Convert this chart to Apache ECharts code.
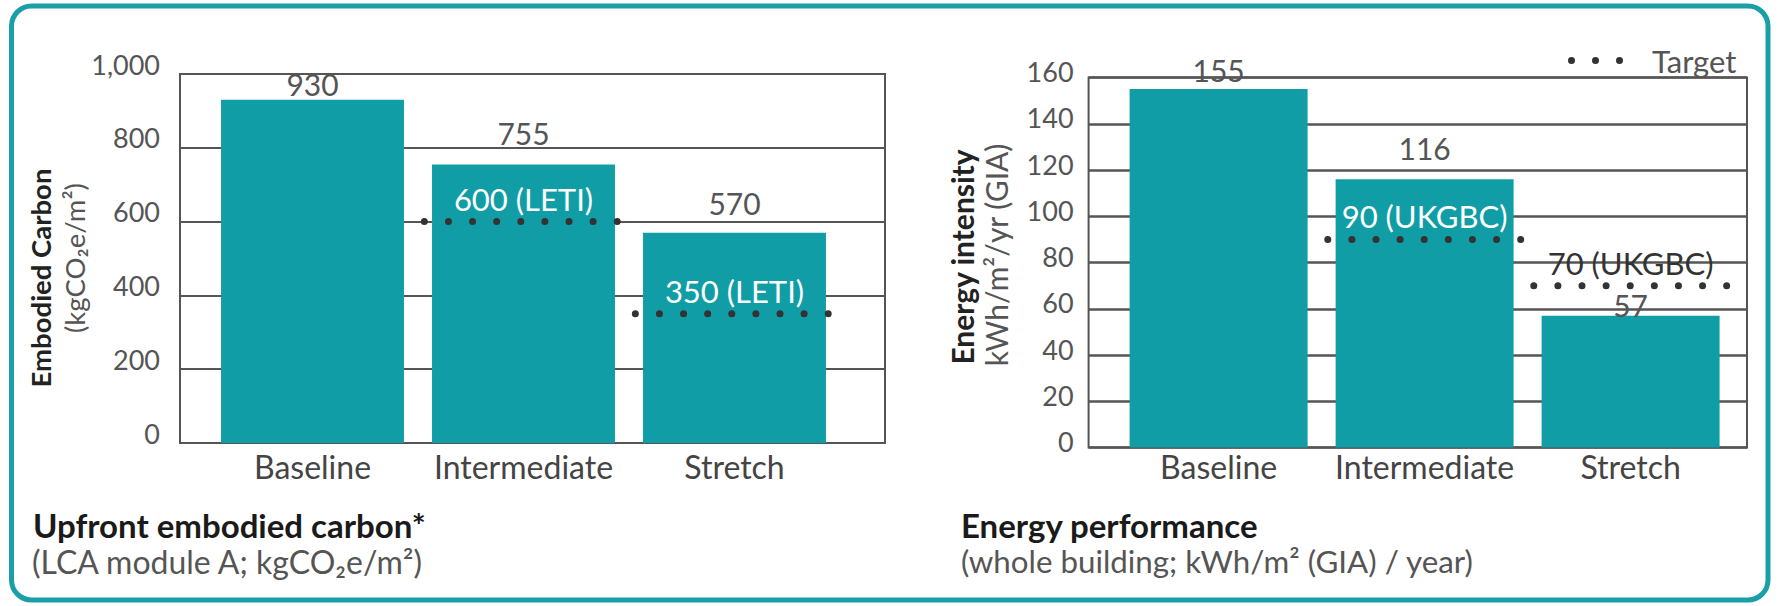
<!DOCTYPE html>
<html>
<head>
<meta charset="utf-8">
<script src="https://cdn.jsdelivr.net/npm/echarts@6/dist/echarts.min.js"></script>
<style>
  html, body { margin: 0; padding: 0; background: #fff; }
  #chart { width: 1780px; height: 606px; }
</style>
</head>
<body>
<div id="chart"></div>
<script>
// ---------- data ----------
const categories = ['Baseline', 'Intermediate', 'Stretch'];

const carbonValues = [930, 755, 570];
const carbonTargets = [null, 600, 350];
const carbonTargetSource = 'LETI';
const carbonTicks = [0, 200, 400, 600, 800, 1000];

const energyValues = [155, 116, 57];
const energyTargets = [null, 90, 70];
const energyTargetSource = 'UKGBC';
const energyTicks = [0, 20, 40, 60, 80, 100, 120, 140, 160];

const legendLabel = 'Target';

// ---------- style ----------
const FONT = 'Lato, "Open Sans", sans-serif';
const TEAL = '#109da6';
const GRID_COLOR = '#555';
const TEXT_GRAY = '#555';
const carbonLabelGap = [1, 16, 15];
const energyLabelGap = [4, 16, -4];

function fmtThousands(v) { return String(v).replace(/\B(?=(\d{3})+(?!\d))/g, ','); }

function barData(values, gaps) {
  return values.map((v, i) => ({ value: v, label: { distance: gaps[i] } }));
}
function targetData(targets, values) {
  const out = [];
  targets.forEach((t, i) => { if (t != null) out.push([i, t, values[i]]); });
  return out;
}
function makeRender(source) {
  return function (params, api) {
    const t = api.value(1);
    const bv = api.value(2);
    const p = api.coord([api.value(0), t]);
    const bw = api.size([1, 0])[0];
    const half = bw * 0.47;
    return {
      type: 'group',
      children: [
        { type: 'line',
          shape: { x1: p[0] - half, y1: p[1], x2: p[0] + half, y2: p[1] },
          style: { stroke: '#333', lineWidth: 7, lineDash: [0.01, 24.1], lineCap: 'round' } },
        { type: 'text', x: p[0], y: p[1] - 23,
          style: { text: t + ' (' + source + ')', fill: t < bv ? '#fff' : '#333',
                   fontSize: 31, fontFamily: FONT, align: 'center', verticalAlign: 'middle' } }
      ]
    };
  };
}

const chart = echarts.init(document.getElementById('chart'), null, { renderer: 'svg' });

const frameGrid = { show: true, borderColor: GRID_COLOR, borderWidth: 2, backgroundColor: 'transparent' };
const catLabel = { interval: 0, hideOverlap: false, color: '#444', fontSize: 32, fontFamily: FONT };

const option = {
  animation: false,
  grid: [
    Object.assign({ left: 180, top: 74, width: 705, height: 369 }, frameGrid),
    { left: 207, top: 74, width: 633, height: 369 },
    Object.assign({ left: 1088.6, top: 77.5, width: 658.4, height: 370 }, frameGrid),
    { left: 1115.6, top: 77.5, width: 618, height: 370 }
  ],
  xAxis: [
    { gridIndex: 0, type: 'category', data: categories, show: false },
    { gridIndex: 1, type: 'category', data: categories,
      axisLine: { show: false }, axisTick: { show: false },
      axisLabel: Object.assign({ margin: 7 }, catLabel) },
    { gridIndex: 2, type: 'category', data: categories, show: false },
    { gridIndex: 3, type: 'category', data: categories,
      axisLine: { show: false }, axisTick: { show: false },
      axisLabel: Object.assign({ margin: 3 }, catLabel) }
  ],
  yAxis: [
    { gridIndex: 0, type: 'value', min: carbonTicks[0], max: carbonTicks[carbonTicks.length - 1],
      interval: carbonTicks[1] - carbonTicks[0],
      axisLine: { show: false }, axisTick: { show: false },
      splitLine: { lineStyle: { color: GRID_COLOR, width: 2 } },
      axisLabel: { margin: 20, color: TEXT_GRAY, fontSize: 27, fontFamily: FONT,
                   verticalAlign: 'bottom', lineHeight: 20, formatter: fmtThousands } },
    { gridIndex: 1, type: 'value', min: carbonTicks[0], max: carbonTicks[carbonTicks.length - 1], show: false },
    { gridIndex: 2, type: 'value', min: energyTicks[0], max: energyTicks[energyTicks.length - 1],
      interval: energyTicks[1] - energyTicks[0],
      axisLine: { show: false }, axisTick: { show: false },
      splitLine: { lineStyle: { color: GRID_COLOR, width: 2.5 } },
      axisLabel: { margin: 15, color: TEXT_GRAY, fontSize: 27, fontFamily: FONT,
                   verticalAlign: 'bottom', lineHeight: 12 } },
    { gridIndex: 3, type: 'value', min: energyTicks[0], max: energyTicks[energyTicks.length - 1], show: false }
  ],
  legend: {
    data: [{ name: legendLabel,
             icon: 'path://M0,3.5a3.5,3.5 0 1,0 7,0a3.5,3.5 0 1,0 -7,0M24,3.5a3.5,3.5 0 1,0 7,0a3.5,3.5 0 1,0 -7,0M48,3.5a3.5,3.5 0 1,0 7,0a3.5,3.5 0 1,0 -7,0',
             itemStyle: { color: '#333' } }],
    left: 1563, top: 40, itemWidth: 55, itemHeight: 7, itemGap: 0,
    textStyle: { color: TEXT_GRAY, fontSize: 31, fontFamily: FONT, padding: [0, 0, 0, 24] },
    selectedMode: false
  },
  series: [
    { type: 'bar', xAxisIndex: 1, yAxisIndex: 1, data: barData(carbonValues, carbonLabelGap),
      barCategoryGap: '13.3%', itemStyle: { color: TEAL }, z: 2,
      label: { show: true, position: 'top', color: TEXT_GRAY, fontSize: 30, fontFamily: FONT } },
    { type: 'custom', name: legendLabel, xAxisIndex: 1, yAxisIndex: 1, z: 5,
      itemStyle: { color: '#333' },
      data: targetData(carbonTargets, carbonValues), renderItem: makeRender(carbonTargetSource) },
    { type: 'bar', xAxisIndex: 3, yAxisIndex: 3, data: barData(energyValues, energyLabelGap),
      barCategoryGap: '13.6%', itemStyle: { color: TEAL }, z: 2,
      label: { show: true, position: 'top', color: TEXT_GRAY, fontSize: 30, fontFamily: FONT } },
    { type: 'custom', name: legendLabel, xAxisIndex: 3, yAxisIndex: 3, z: 5,
      itemStyle: { color: '#333' },
      data: targetData(energyTargets, energyValues), renderItem: makeRender(energyTargetSource) }
  ],
  graphic: [
    { type: 'rect', shape: { x: 11.5, y: 6, width: 1756.5, height: 594, r: 20 },
      style: { fill: 'none', stroke: '#1a9fa8', lineWidth: 5 }, z: 0, silent: true },
    { type: 'text', x: 40, y: 278, rotation: Math.PI / 2,
      style: { text: 'Embodied Carbon', fill: '#222', fontSize: 27.5, fontWeight: 'bold', fontFamily: FONT,
               align: 'center', verticalAlign: 'middle' } },
    { type: 'text', x: 74, y: 258, rotation: Math.PI / 2,
      style: { text: '(kgCO₂e/m²)', fill: TEXT_GRAY, fontSize: 27.5, fontFamily: FONT,
               align: 'center', verticalAlign: 'middle' } },
    { type: 'text', x: 962, y: 257, rotation: Math.PI / 2,
      style: { text: 'Energy intensity', fill: '#222', fontSize: 30, fontWeight: 'bold', fontFamily: FONT,
               align: 'center', verticalAlign: 'middle' } },
    { type: 'text', x: 996, y: 255, rotation: Math.PI / 2,
      style: { text: 'kWh/m²/yr (GIA)', fill: TEXT_GRAY, fontSize: 30, fontFamily: FONT,
               align: 'center', verticalAlign: 'middle' } },
    { type: 'text', x: 33, y: 525,
      style: { text: 'Upfront embodied carbon*', fill: '#1a1a1a', fontSize: 33, lineHeight: 30, fontWeight: 'bold', fontFamily: FONT,
               align: 'left', verticalAlign: 'middle' } },
    { type: 'text', x: 32, y: 561,
      style: { text: '(LCA module A; kgCO₂e/m²)', fill: TEXT_GRAY, fontSize: 32, lineHeight: 30, fontFamily: FONT,
               align: 'left', verticalAlign: 'middle' } },
    { type: 'text', x: 961, y: 525,
      style: { text: 'Energy performance', fill: '#1a1a1a', fontSize: 33, lineHeight: 30, fontWeight: 'bold', fontFamily: FONT,
               align: 'left', verticalAlign: 'middle' } },
    { type: 'text', x: 961, y: 561,
      style: { text: '(whole building; kWh/m² (GIA) / year)', fill: TEXT_GRAY, fontSize: 31.3, lineHeight: 30, fontFamily: FONT,
               align: 'left', verticalAlign: 'middle' } }
  ]
};
chart.setOption(option);
</script>
</body>
</html>
